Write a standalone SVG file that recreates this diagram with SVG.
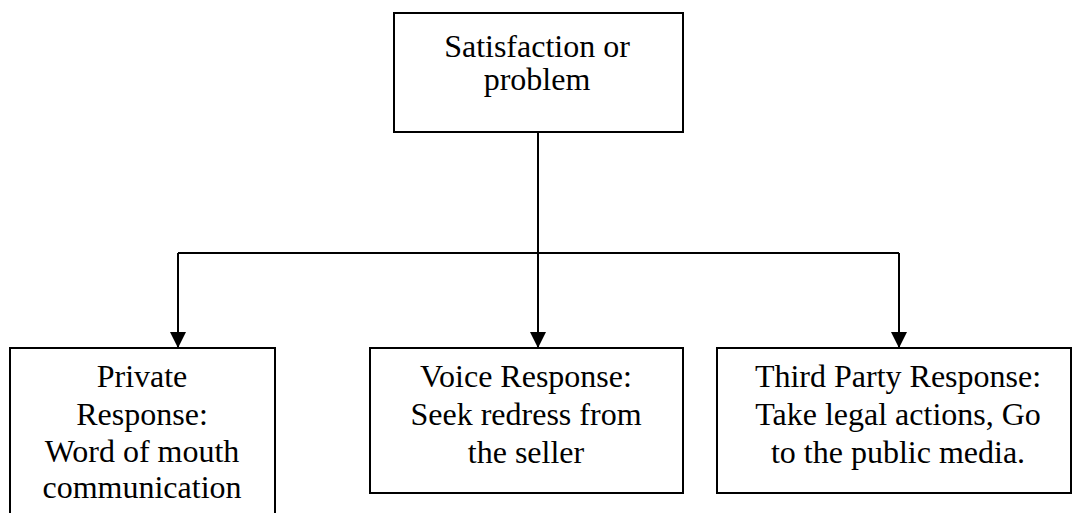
<svg xmlns="http://www.w3.org/2000/svg" width="1072" height="513" viewBox="0 0 1072 513">
  <defs>
    <marker id="arrow" viewBox="0 0 16 16" refX="16" refY="8" markerWidth="16" markerHeight="16" markerUnits="userSpaceOnUse" orient="auto">
      <path d="M0,0 L16,8 L0,16 Z" fill="#000"/>
    </marker>
  </defs>
  <style>
    .box { fill: #fff; stroke: #000; stroke-width: 2; }
    .lbl { font-family: "Liberation Serif", "Times New Roman", serif; font-size: 32px; fill: #000; text-anchor: middle; }
    .wire { fill: none; stroke: #000; stroke-width: 2; }
  </style>
  <rect width="1072" height="513" fill="#fff"/>

  <g id="connectors">
    <line class="wire" x1="538" y1="132" x2="538" y2="253"/>
    <line class="wire" x1="178" y1="253" x2="899" y2="253"/>
    <line class="wire" x1="178" y1="253" x2="178" y2="348" marker-end="url(#arrow)"/>
    <line class="wire" x1="538" y1="253" x2="538" y2="348" marker-end="url(#arrow)"/>
    <line class="wire" x1="899" y1="253" x2="899" y2="348" marker-end="url(#arrow)"/>
  </g>

  <g id="satisfaction">
    <rect class="box" x="394" y="13" width="289" height="119"/>
    <text class="lbl" x="537" y="57">Satisfaction or</text>
    <text class="lbl" x="537" y="90">problem</text>
  </g>

  <g id="private">
    <rect class="box" x="10" y="348" width="265" height="175"/>
    <text class="lbl" x="142" y="387">Private</text>
    <text class="lbl" x="142" y="425">Response:</text>
    <text class="lbl" x="142" y="462">Word of mouth</text>
    <text class="lbl" x="142" y="498">communication</text>
  </g>

  <g id="voice">
    <rect class="box" x="370" y="348" width="313" height="145"/>
    <text class="lbl" x="526" y="387">Voice Response:</text>
    <text class="lbl" x="526" y="425">Seek redress from</text>
    <text class="lbl" x="526" y="463">the seller</text>
  </g>

  <g id="third-party">
    <rect class="box" x="717" y="348" width="354" height="145"/>
    <text class="lbl" x="898" y="387">Third Party Response:</text>
    <text class="lbl" x="898" y="425">Take legal actions, Go</text>
    <text class="lbl" x="898" y="463">to the public media.</text>
  </g>
</svg>
